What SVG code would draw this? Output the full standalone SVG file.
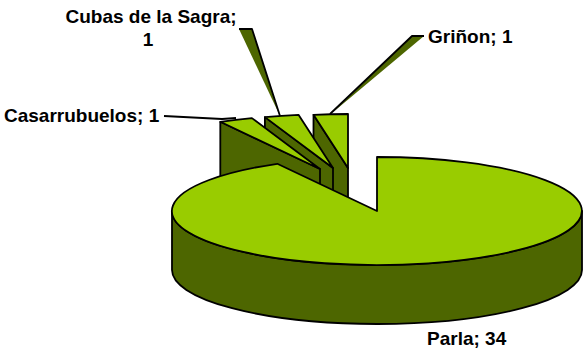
<svg xmlns="http://www.w3.org/2000/svg" width="583" height="353" viewBox="0 0 583 353">
<style>
.lt{fill:#99CC00;stroke:#000;stroke-width:1.8;stroke-linejoin:round}
.dk{fill:#4D6600;stroke:#000;stroke-width:1.8;stroke-linejoin:round}
.ln{fill:none;stroke:#000;stroke-width:1.8;stroke-linejoin:round}
.lf{fill:#4D6600;stroke:none}
.lb{font-family:"Liberation Sans",Arial,sans-serif;font-weight:bold;font-size:19px;fill:#000}
</style>
<rect width="583" height="353" fill="#fff"/>
<g id="connectors">
<polyline class="ln" points="164,116 222,119 236,118"/>
<polygon class="lf" points="239,29 252,29 280,116"/>
<polyline class="ln" points="239,29 252,29 280,116"/>
<polygon class="lf" points="412,36 424,36 332,113"/>
<polyline class="ln" points="424,36 412,36 330,114"/>
</g>
<g id="slice-grinon">
<path class="dk" d="M313.5,114.8 L348,168 L348,226 L313.5,172.8 Z"/>
<path class="lt" d="M348,168 L313.5,114.8 A205 54 0 0 1 348,114 Z"/>
</g>
<g id="slice-cubas">
<path class="dk" d="M264.9,117.1 L333,168 L333,226 L264.9,175.1 Z"/>
<path class="lt" d="M333,168 L264.9,117.1 A205 54 0 0 1 298.5,114.8 Z"/>
</g>
<g id="slice-casarrubuelos">
<path class="dk" d="M220.3,121.8 L320,169 L320,227 L220.3,179.8 Z"/>
<path class="lt" d="M320,169 L220.3,121.8 A205 54 0 0 1 251.9,118.1 Z"/>
</g>
<g id="slice-parla">
<path class="dk" d="M172,211 L172,270 A205 54 0 0 0 582,270 L582,211 A205 54 0 0 1 172,211 Z"/>
<path class="lt" d="M377,211 L277.3,163.8 A205 54 0 1 0 377,157 Z"/>
</g>
<g id="labels">
<text class="lb" x="151" y="23" text-anchor="middle">Cubas de la Sagra;</text>
<text class="lb" x="148" y="46" text-anchor="middle">1</text>
<text class="lb" x="428" y="43">Griñon; 1</text>
<text class="lb" x="4" y="122">Casarrubuelos; 1</text>
<text class="lb" x="427" y="345">Parla; 34</text>
</g>
</svg>
